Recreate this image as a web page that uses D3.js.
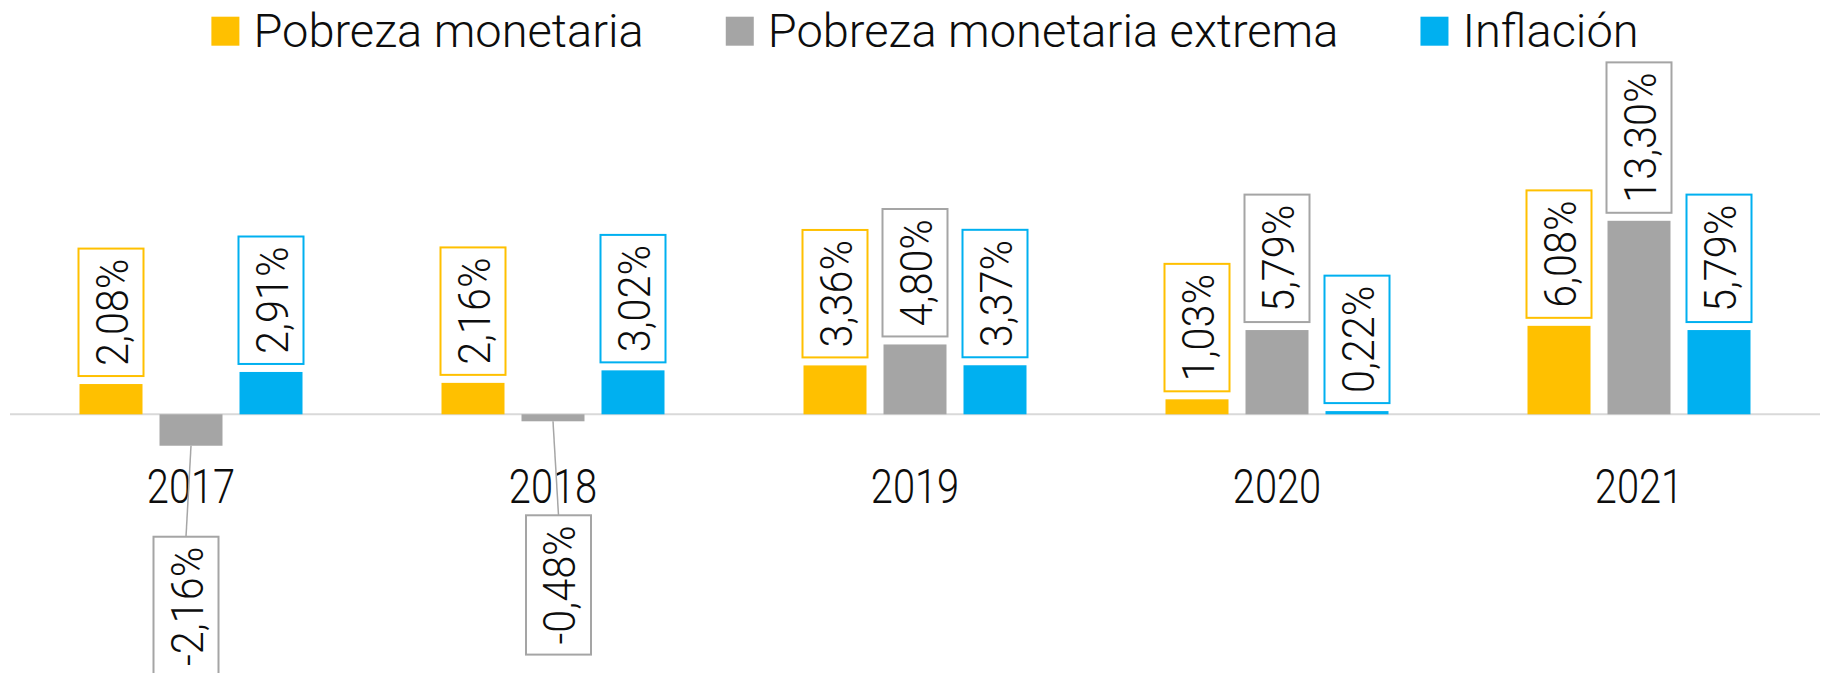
<html>
<head>
<meta charset="utf-8">
<title>Pobreza e inflación</title>
<style>
  body { margin: 0; background: #fff; }
  svg text { font-family: Roboto, "Open Sans", sans-serif; fill: #0d0d0d; }
</style>
</head>
<body>
<svg id="chart" width="1829" height="673"></svg>
<script src="https://cdnjs.cloudflare.com/ajax/libs/d3/7.8.5/d3.min.js"></script>
<script>
// data
var years = ["2017", "2018", "2019", "2020", "2021"];
var seriesNames = ["Pobreza monetaria", "Pobreza monetaria extrema", "Inflación"];
var pobreza = [2.08, 2.16, 3.36, 1.03, 6.08];
var pobrezaExtrema = [-2.16, -0.48, 4.80, 5.79, 13.30];
var inflacion = [2.91, 3.02, 3.37, 0.22, 5.79];
var colors = ["#FFC000", "#A5A5A5", "#00B0F0"];

// negative labels were dragged by hand in the original, so nudge them (px)
var negNudge = { "2017": [-5, 91], "2018": [5.5, 94] };

var seriesValues = [pobreza, pobrezaExtrema, inflacion];
var rows = [];
years.forEach(function (yr, i) {
  seriesNames.forEach(function (s, j) {
    rows.push({ year: yr, series: s, idx: j, value: seriesValues[j][i] });
  });
});

var svg = d3.select("#chart");
var left = 10, right = 1820;

var x0 = d3.scaleBand().domain(years).range([left, right]);
var groupW = 223;
var x1 = d3.scaleBand().domain(seriesNames).range([0, groupW]).paddingInner(0.2125);
var y = d3.scaleLinear().domain([-4, 14]).range([472.5, 210.6]);
var color = d3.scaleOrdinal().domain(seriesNames).range(colors);

function fmt(v) { return v.toFixed(2).replace(".", ",") + "%"; }
function barX(d) { return x0(d.year) + (x0.bandwidth() - groupW) / 2 + x1(d.series); }

// baseline
svg.append("line")
  .attr("x1", left).attr("x2", right)
  .attr("y1", y(0)).attr("y2", y(0))
  .attr("stroke", "#D9D9D9").attr("stroke-width", 2);

// bars
svg.append("g").selectAll("rect").data(rows).enter()
  .append("rect")
  .attr("x", barX)
  .attr("width", x1.bandwidth())
  .attr("y", function (d) { return y(Math.max(0, d.value)); })
  .attr("height", function (d) { return Math.abs(y(d.value) - y(0)); })
  .attr("fill", function (d) { return color(d.series); });

// year labels
svg.append("g").selectAll("text").data(years).enter()
  .append("text")
  .attr("transform", function (d) { return "translate(" + (x0(d) + x0.bandwidth() / 2) + ",502.7) scale(0.83,1)"; })
  .attr("text-anchor", "middle")
  .style("font-size", "48px")
  .style("font-weight", 300)
  .text(function (d) { return d; });

// data labels in boxes, rotated
var boxW = 65, pad = 10, gap = 8, squeeze = 0.92;
var labels = svg.append("g").selectAll("g").data(rows).enter().append("g");

labels.each(function (d) {
  var g = d3.select(this);
  var cx = barX(d) + x1.bandwidth() / 2;
  var leader = null;
  if (d.value < 0) leader = g.append("line");
  var box = g.append("rect");
  var t = g.append("text")
    .style("font-size", "45px")
    .style("font-weight", 300)
    .attr("text-anchor", "middle")
    .text(fmt(d.value));
  var len = t.node().getBBox().width * squeeze;
  var h = len + 2 * pad;
  var bx, by;
  if (d.value >= 0) {
    bx = cx;
    by = y(d.value) - gap - h;
  } else {
    var n = negNudge[d.year] || [0, 90];
    bx = cx + n[0];
    by = y(d.value) + n[1];
    leader.attr("x1", cx).attr("y1", y(d.value))
      .attr("x2", bx).attr("y2", by)
      .attr("stroke", "#A6A6A6").attr("stroke-width", 1.5);
  }
  box.attr("x", bx - boxW / 2).attr("y", by)
    .attr("width", boxW).attr("height", h)
    .attr("fill", "#fff")
    .attr("stroke", color(d.series)).attr("stroke-width", 2);
  t.attr("transform", "translate(" + (bx + 19.5 - 3) + "," + (by + h / 2) + ") rotate(-90) scale(" + squeeze + ",1)");
});

// legend
var legend = svg.append("g");
var items = legend.selectAll("g").data(seriesNames).enter().append("g");
items.append("rect")
  .attr("width", 28).attr("height", 29)
  .attr("y", 16.7)
  .attr("fill", function (d) { return color(d); });
items.append("text")
  .attr("x", 42).attr("y", 46.5)
  .style("font-size", "47px")
  .style("font-weight", 300)
  .text(function (d) { return d; });
var pos = 0, legendGap = 82;
items.each(function () {
  var w = this.getBBox().width;
  d3.select(this).attr("transform", "translate(" + pos + ",0)");
  pos += w + legendGap;
});
var total = pos - legendGap;
legend.attr("transform", "translate(" + (925 - total / 2) + ",0)");
</script>
</body>
</html>
